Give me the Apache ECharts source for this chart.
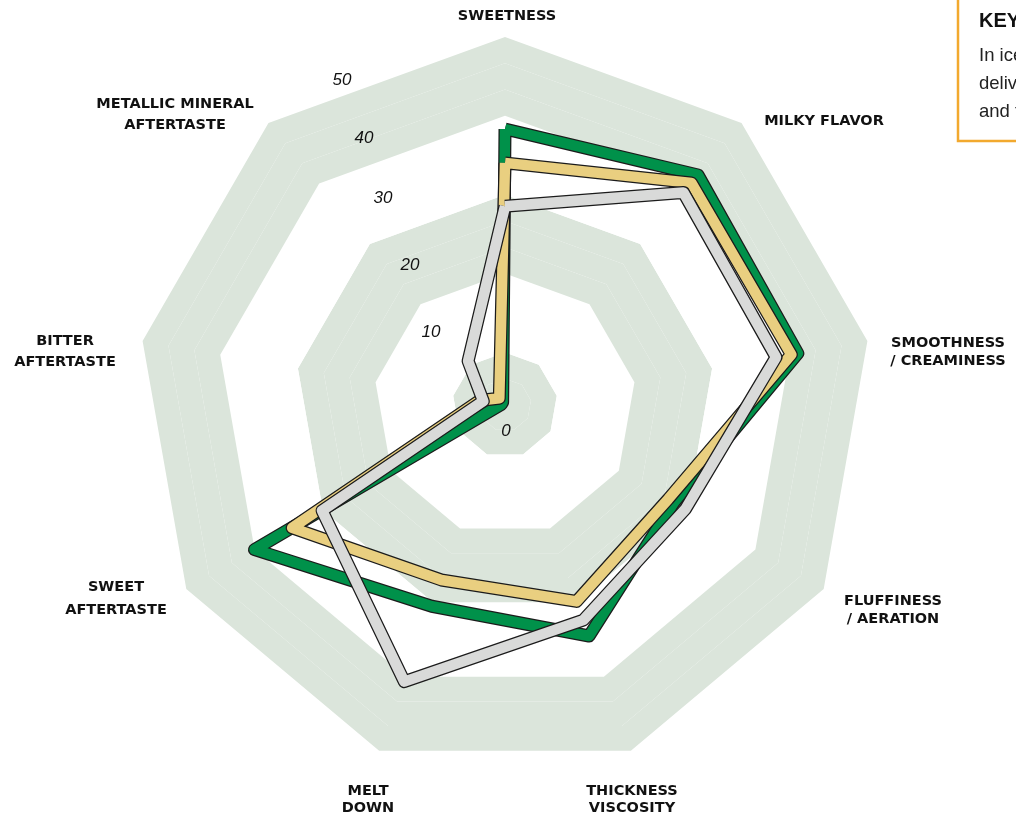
<!DOCTYPE html>
<html>
<head>
<meta charset="utf-8">
<script src="https://cdn.jsdelivr.net/npm/echarts@6/dist/echarts.min.js"></script>
<style>
  html, body { margin: 0; padding: 0; background: #fff; }
  #chart { width: 1016px; height: 818px; }
</style>
</head>
<body>
<div id="chart"></div>
<script>
  // attributes in clockwise order, starting at the top
  var attributes = ['SWEETNESS', 'MILKY FLAVOR', 'SMOOTHNESS\n/ CREAMINESS', 'FLUFFINESS\n/ AERATION',
    'THICKNESS\nVISCOSITY', 'MELT\nDOWN', 'SWEET\nAFTERTASTE', 'BITTER\nAFTERTASTE', 'METALLIC MINERAL\nAFTERTASTE']
  var greenValues = [37.5, 40.8, 40.4, 26.5, 33.4, 29.1, 39.3, 0.5, 0.5]
  var goldValues = [32.9, 39.4, 39.5, 25.6, 28.4, 25.3, 33.4, 3.5, 1.2]
  var greyValues = [27.0, 37.7, 37.4, 28.3, 31.1, 40.0, 28.7, 3.0, 7.8]
  var scaleLabels = ['0', '10', '20', '30', '40', '50']
  var scaleMax = 50
  var keyTitle = 'KEY'
  var keyLines = ['In ice cream, texture', 'delivers the mouthfeel', 'and the body']

  // label placement (layout only)
  var namePos = [[507, 16, 20], [824, 121, 20], [948, 352, 18], [893, 610, 18], [632, 800, 17],
    [368, 800, 17], [116, 599, 23], [65, 352, 21], [175, 115, 21]]
  var scalePos = [[506, 431], [431, 332], [410, 265], [383, 198], [364, 138], [342, 80]]

  // 14 thin rings: 2 green at the middle, then bands of 3
  var g = '#dbe5db', w = '#fff'
  var bandColors = [g, g, w, w, w, g, g, g, w, w, w, g, g, g]

  // radar runs counter-clockwise, so flip everything after the first item
  function ccw(arr) {
    return [arr[0]].concat(arr.slice(1).reverse())
  }

  function outlined(values, color) {
    return [
      { value: ccw(values), lineStyle: { color: '#1b1b1b', width: 13, join: 'round' } },
      { value: ccw(values), lineStyle: { color: color, width: 10.5, join: 'round' } }
    ]
  }

  var chart = echarts.init(document.getElementById('chart'))

  var graphics = []
  attributes.forEach(function (name, i) {
    graphics.push({
      type: 'text',
      z: 100,
      x: namePos[i][0],
      y: namePos[i][1],
      style: {
        text: name,
        fill: '#111',
        font: 'bold 14.5px "DejaVu Sans"',
        lineHeight: namePos[i][2],
        textAlign: 'center',
        textVerticalAlign: 'middle'
      }
    })
  })
  scaleLabels.forEach(function (t, i) {
    graphics.push({
      type: 'text',
      z: 100,
      x: scalePos[i][0],
      y: scalePos[i][1],
      style: {
        text: t,
        fill: '#111',
        font: 'italic 17px "Liberation Sans"',
        textAlign: 'center',
        textVerticalAlign: 'middle'
      }
    })
  })
  graphics.push({
    type: 'rect',
    z: 100,
    shape: { x: 958, y: -10, width: 100, height: 151 },
    style: { fill: '#fff', stroke: '#f2a92e', lineWidth: 2.5 }
  })
  graphics.push({
    type: 'text', z: 101, x: 979, y: 21,
    style: { text: keyTitle, fill: '#111', font: 'bold 20px "Liberation Sans"', textVerticalAlign: 'middle' }
  })
  keyLines.forEach(function (t, i) {
    graphics.push({
      type: 'text', z: 101, x: 979, y: 56 + i * 28,
      style: { text: t, fill: '#222', font: '18.5px "Liberation Sans"', textVerticalAlign: 'middle' }
    })
  })

  chart.setOption({
    animation: false,
    radar: {
      center: [505, 405],
      radius: 368,
      startAngle: 90,
      splitNumber: 14,
      shape: 'polygon',
      indicator: ccw(attributes).map(function (n) {
        return { name: n, min: 0, max: scaleMax }
      }),
      axisName: { show: false },
      axisLine: { show: false },
      axisTick: { show: false },
      axisLabel: { show: false },
      splitLine: { show: false },
      splitArea: { show: true, areaStyle: { color: bandColors } }
    },
    series: [{
      type: 'radar',
      symbol: 'none',
      silent: true,
      data: [].concat(
        outlined(greenValues, '#00914a'),
        outlined(goldValues, '#e9cf80'),
        outlined(greyValues, '#d9dad9')
      )
    }],
    graphic: graphics
  })
</script>
</body>
</html>
